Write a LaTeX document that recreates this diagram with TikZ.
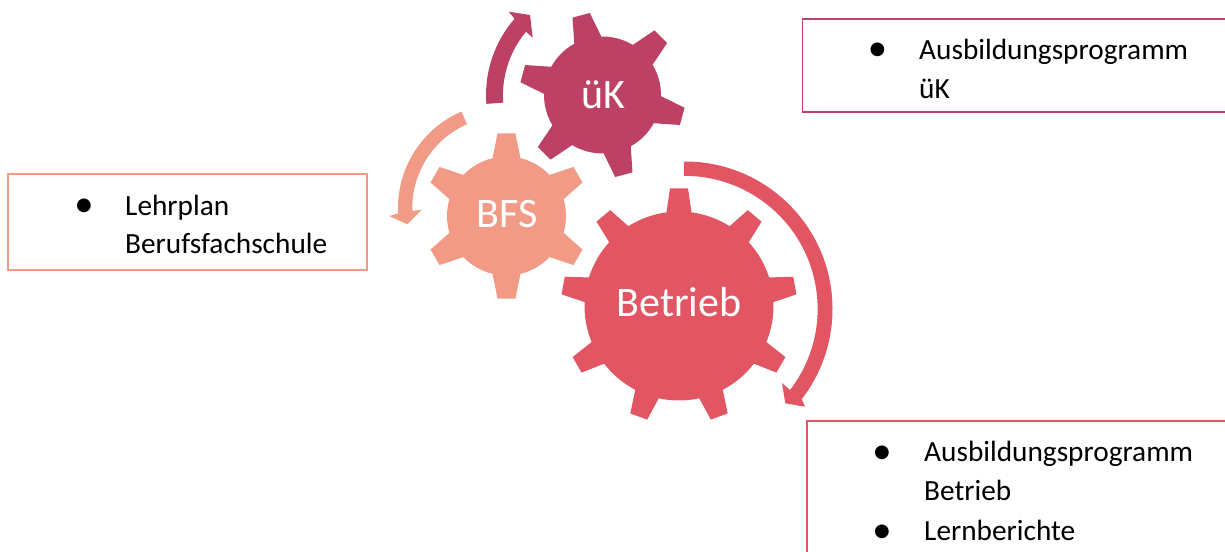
\documentclass[tikz,border=0pt]{standalone}
\usepackage{fontspec}
\setmainfont{Carlito}
\newfontfamily\bulletfont{DejaVu Sans}
\definecolor{ukcol}{RGB}{188,65,100}
\definecolor{bfscol}{RGB}{241,155,135}
\definecolor{betcol}{RGB}{226,86,100}
% centre x, y, body r, tip r, teeth, rotation, base half width, tip half width, colour
\newcommand{\gearshape}[9]{%
  \begin{scope}[shift={(#1,#2)}]
    \pgfmathsetmacro{\gstep}{360/#5}
    \pgfmathsetmacro{\gba}{asin(#7/#3)}
    \pgfmathsetmacro{\gta}{atan(#8/#4)}
    \pgfmathsetmacro{\garc}{\gstep-2*\gba}
    \pgfmathtruncatemacro{\glast}{#5-1}
    \fill[#9] ({#6-\gba}:#3)
      \foreach \gi in {0,...,\glast}{
        \pgfextra{\pgfmathsetmacro{\ga}{#6+\gi*\gstep}}
        -- ({\ga-\gba}:#3) -- ({\ga-\gta}:#4) -- ({\ga+\gta}:#4) -- ({\ga+\gba}:#3)
        arc[start angle={\ga+\gba}, delta angle=\garc, radius=#3]
      } -- cycle;
  \end{scope}}
% centre x, y, outer r, inner r, start angle, outer end angle, rest of path, colour
\newcommand{\blockarrow}[8]{%
  \fill[#8] ([shift={(#1,#2)}]#5:#3) arc[start angle=#5, end angle=#6, radius=#3] #7 -- ([shift={(#1,#2)}]#5:#4) -- cycle;}
\tikzset{
  gearlabel/.style={text=white, inner sep=0pt},
  itemtext/.style={anchor=base west, inner sep=0pt, text=black, font=\fontsize{29.3}{38.5}\selectfont, align=left},
  bulletmark/.style={anchor=center, inner sep=0pt, text=black, font=\bulletfont\fontsize{18}{18}\selectfont},
  boxline/.style={line width=1.5pt}
}
\begin{document}
\begin{tikzpicture}[x=1pt,y=-1pt]
\useasboundingbox (0,0) rectangle (1225,551);
% gears
\gearshape{679}{306}{94.5}{118}{9}{-90}{12.5}{9}{betcol}
\gearshape{506.5}{216}{59.5}{83}{6}{-90}{14}{9}{bfscol}
\gearshape{602.5}{95}{58.5}{83}{6}{-105}{14}{9}{ukcol}
\node[gearlabel, font=\fontsize{42}{42}\selectfont] (ukl) at (603,95) {üK};
\node[gearlabel, font=\fontsize{42}{42}\selectfont] (bfsl) at (507,214) {BFS};
\node[gearlabel, font=\fontsize{42}{42}\selectfont] (betl) at (679,302) {Betrieb};
% block arrows
\blockarrow{602}{95}{116}{99.5}{175.6}{221.1}{-- (508.7,11.7) -- (530,15) -- (532.7,37.7) -- (526,31.7) arc[start angle=219.8, end angle=175.6, radius=99.5]}{ukcol}
\blockarrow{503}{208}{105}{91.5}{246.7}{177.1}{-- (389.3,216) -- (407.3,224.3) -- (421.7,210) -- (412.3,210.7) arc[start angle=178.3, end angle=246.7, radius=91.5]}{bfscol}
\blockarrow{685}{309}{147.5}{133}{-90.4}{37.7}{-- (805,406.7) -- (785.3,403.3) -- (782,383) -- (790,390) arc[start angle=37.6, end angle=-90.4, radius=133]}{betcol}
% boxes
\draw[boxline, bfscol] (8,174) rectangle (367,270);
\draw[boxline, ukcol] (1240,19) -- (802.5,19) -- (802.5,112) -- (1240,112);
\draw[boxline, betcol] (1240,421) -- (807,421) -- (807,560);
% texts
\node[bulletmark] (b1) at (84,205.5) {●};
\node[itemtext, anchor=north west] (t1) at (125,194.5) {Lehrplan\\Berufsfachschule};
\node[bulletmark] (b2) at (877.5,50) {●};
\node[itemtext, anchor=north west] (t2) at (919,39) {Ausbildungsprogramm\\üK};
\node[bulletmark] (b3) at (882,452.7) {●};
\node[itemtext, anchor=north west] (t3) at (924,441) {Ausbildungsprogramm\\Betrieb};
\node[bulletmark] (b4) at (882,531.7) {●};
\node[itemtext] (t4) at (924,540) {Lernberichte};
\end{tikzpicture}
\end{document}
